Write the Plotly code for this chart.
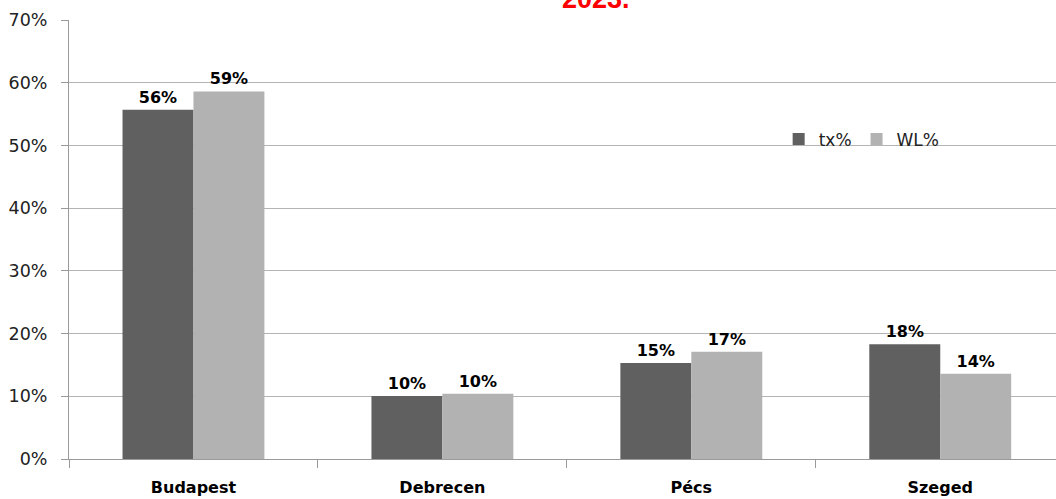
import plotly.graph_objects as go

categories = ["Budapest", "Debrecen", "Pécs", "Szeged"]
tx_values = [0.557, 0.1005, 0.153, 0.183]
wl_values = [0.586, 0.104, 0.171, 0.136]
y_ticks = [0, 0.1, 0.2, 0.3, 0.4, 0.5, 0.6, 0.7]
y_tick_labels = ["0%", "10%", "20%", "30%", "40%", "50%", "60%", "70%"]

font_family = "'DejaVu Sans', Arial, sans-serif"

fig = go.Figure()
fig.add_trace(go.Bar(
    name="tx%", x=categories, y=tx_values,
    marker=dict(color="#606060", line=dict(width=0)),
    texttemplate="<b>%{y:.0%}</b>", textposition="outside",
    textfont=dict(size=16, color="#000000", family=font_family),
    cliponaxis=False,
))
fig.add_trace(go.Bar(
    name="WL%", x=categories, y=wl_values,
    marker=dict(color="#b2b2b2", line=dict(width=0)),
    texttemplate="<b>%{y:.0%}</b>", textposition="outside",
    textfont=dict(size=16, color="#000000", family=font_family),
    cliponaxis=False,
))

fig.update_layout(
    width=1056, height=499,
    margin=dict(l=69, r=0, t=20, b=40, autoexpand=False),
    paper_bgcolor="white", plot_bgcolor="white",
    barmode="group", bargap=0.43, bargroupgap=0,
    font=dict(family=font_family, size=16, color="#222222"),
    legend=dict(
        orientation="h", x=0.719, y=0.728, xanchor="left", yanchor="middle",
        font=dict(size=17, color="#222222", family=font_family),
        bgcolor="rgba(0,0,0,0)", itemwidth=30, traceorder="normal",
        tracegroupgap=0,
    ),
    showlegend=True,
)

fig.update_xaxes(
    type="category", range=[-0.5, 3.465], automargin=False,
    showline=True, linecolor="#9a9a9a", linewidth=1,
    tickson="boundaries", ticks="outside", ticklen=8, tickcolor="#9a9a9a",
    showgrid=False,
    tickfont=dict(size=16, color="#000000", family=font_family),
    tickprefix="<b>", ticksuffix="</b>",
    ticklabelstandoff=14,
)
fig.update_yaxes(
    range=[0, 0.7], tickvals=y_ticks, ticktext=y_tick_labels, automargin=False,
    showline=True, linecolor="#9a9a9a", linewidth=1,
    ticks="outside", ticklen=7, tickcolor="#9a9a9a",
    showgrid=True, gridcolor="#b4b4b4", gridwidth=1,
    zeroline=False,
    tickfont=dict(size=17.5, color="#222222", family=font_family),
    ticklabelstandoff=10,
)

fig.add_annotation(
    text="<b>2023.</b>", xref="paper", yref="paper",
    x=0.534, y=1.047, xanchor="center", yanchor="middle",
    showarrow=False, font=dict(size=27, color="#ff0000", family="Arial, 'Liberation Sans', sans-serif"),
)

fig.write_html(
    "out.html",
    config={"displayModeBar": False},
    post_script="document.body.style.margin='0px';document.body.style.overflow='hidden';",
)
